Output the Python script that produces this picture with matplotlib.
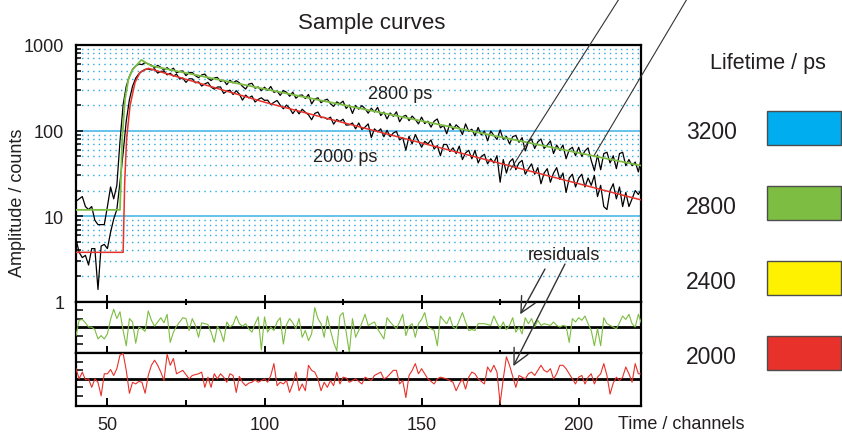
import numpy as np
import matplotlib.pyplot as plt
from matplotlib.patches import Rectangle, ConnectionPatch
from matplotlib.ticker import MultipleLocator, LogLocator, NullFormatter, FuncFormatter

plt.rcParams['font.family'] = ['Liberation Sans', 'DejaVu Sans']

# time axis: one point per channel
channels = np.arange(40, 221)

# measured decay, 2800 ps sample
counts_2800 = [
    15, 16, 17, 13, 12, 13, 9, 8, 8, 8, 13, 22, 16, 23,
    75, 200, 330, 430, 520, 570, 600, 590, 625, 600,
    582, 541, 579, 548, 509, 544,
    507, 536, 473, 492, 498, 439, 477, 478, 439, 415,
    447, 458, 408, 385, 412, 419, 375, 388, 344, 389,
    361, 383, 362, 329, 306, 350, 357, 313, 324, 293,
    322, 295, 328, 280, 290, 258, 294, 281, 252, 282,
    239, 258, 261, 237, 265, 205, 234, 242, 212, 226,
    233, 206, 192, 217, 206, 221, 182, 199, 159, 197,
    178, 196, 181, 160, 183, 165, 187, 150, 165, 137,
    161, 147, 166, 127, 146, 151, 131, 148, 135, 120,
    144, 121, 129, 110, 129, 137, 108, 115, 92, 121,
    103, 117, 108, 90, 120, 98, 104, 87, 109, 89,
    99, 76, 99, 88, 79, 102, 79, 86, 70, 85,
    88, 73, 83, 58, 74, 80, 62, 74, 80, 62,
    68, 76, 54, 68, 59, 68, 47, 60, 64, 51,
    64, 50, 58, 63, 45, 34, 52, 35, 54, 56,
    42, 51, 36, 54, 56, 39, 46, 39, 43, 33, 49]

# measured decay, 2000 ps sample
counts_2000 = [
    5.4, 3.8, 3.3, 3.5, 2.7, 4.2, 4.2, 1.4, 4.5, 4.7, 4.2, 6.5, 9.3,
    12, 25, 55, 130, 230, 330, 410, 460, 495, 520, 525,
    511, 527, 470, 492, 495, 448,
    468, 433, 457, 400, 412, 366, 403, 403, 362, 371,
    332, 351, 366, 323, 305, 323, 324, 272, 289, 297,
    264, 293, 267, 227, 260, 241, 254, 216, 232, 242,
    226, 227, 202, 214, 225, 199, 180, 199, 183, 158,
    178, 157, 178, 164, 153, 134, 159, 165, 142, 143,
    136, 144, 119, 135, 128, 136, 116, 117, 123, 105,
    123, 103, 110, 120, 83, 105, 97, 105, 85, 101,
    85, 94, 98, 78, 83, 59, 86, 70, 90, 76,
    64, 75, 70, 78, 61, 67, 51, 69, 69, 57,
    63, 54, 66, 46, 55, 59, 47, 59, 42, 50,
    53, 41, 47, 42, 51, 25, 46, 32, 43, 47,
    35, 42, 45, 31, 36, 41, 31, 37, 24, 32,
    36, 25, 32, 37, 27, 32, 19, 28, 31, 22,
    28, 31, 22, 28, 23, 30, 17, 23, 13, 12,
    20, 24, 16, 22, 13, 19, 13, 16, 20, 18, 21]

# fitted model curves (straight segments on the log axis)
fit_2800_ch = [40, 54, 54.7, 55.6, 56.7, 58.0, 60.8, 64, 220]
fit_2800 = [11.9, 11.9, 80, 234, 400, 515, 670, 570, 39]
fit_2000_ch = [40, 55, 55.1, 55.5, 56.1, 57.2, 58.8, 60.4, 63, 100, 220]
fit_2000 = [3.8, 3.8, 5.4, 25, 80, 196, 367, 480, 535, 215, 15.5]

# weighted residuals of the two fits
resid_2800 = [
    -1.0, 0.8, 0.9, 0.5, 0.0, 0.0, -0.3, -1.4, -1.0, -1.4,
    -0.8, 0.9, 2.1, 1.0, 1.8, -0.4, -2.2, 1.0, 0.6, -1.9,
    0.0, -0.2, -0.5, 1.9, 0.8, 0.1, 0.6, 1.1, 0.5, 1.5,
    -1.8, -0.6, 0.1, 0.6, 1.1, 1.0, -0.4, 1.0, 0.2, -1.2,
    0.5, 0.4, 0.3, -0.6, -1.8, 0.1, -0.5, -1.7, 0.6, 0.0,
    0.3, 1.3, 0.4, 0.1, 0.4, -0.2, -0.6, 0.4, 1.2, -2.7,
    1.2, -0.6, 0.0, -0.4, 0.6, 1.1, -2.0, 0.3, 1.0, 0.5,
    -0.2, 1.0, -1.2, -0.4, -1.6, -0.8, 2.3, 1.0, 0.4, -1.2,
    1.3, -0.4, -1.8, -2.8, 1.3, 1.7, -0.6, -3.0, 1.0, -1.2,
    -0.4, 0.5, 1.5, 0.2, 0.4, 0.6, -0.2, -0.8, -1.4, 1.1,
    0.6, 0.2, -0.2, 0.6, 1.5, -1.0, 0.1, 0.4, -1.2, 0.4,
    0.9, 1.7, 0.0, -0.2, -0.4, -2.2, 1.3, 0.8, 0.4, 1.2,
    0.0, -0.2, 0.8, 1.7, 0.6, -0.4, -0.3, -0.4, 0.4, 0.4,
    0.4, 0.3, 0.2, 1.3, 0.5, -0.2, 0.6, -0.3, 0.2, 1.1,
    -0.6, 0.0, -0.8, 1.1, 0.4, 1.0, 0.0, 0.8, 0.2, 0.4,
    0.3, 0.2, 0.6, 0.2, 0.0, 0.2, 0.1, -1.8, 1.0, 0.6,
    1.1, 0.8, 1.3, 0.4, -0.4, -2.2, -0.2, -2.2, 1.1, 0.4,
    0.2, 0.0, -0.2, 0.5, 1.3, 0.9, 1.5, 0.4, 0.0, 1.5, 0.4]

resid_2000 = [
    1.2, 0.0, 0.8, -0.1, 0.0, -1.0, 0.0, -0.4, -2.0, 0.6,
    0.6, 1.1, 0.4, 1.2, 2.8, 3.0, 1.0, -1.7, -0.4, -0.6,
    -0.3, -0.4, -1.7, 0.4, 1.6, 2.2, 1.6, 0.8, -0.2, 2.9,
    1.6, 2.4, 0.6, 0.8, 1.0, 0.5, 0.0, 0.4, 0.5, 0.6,
    0.8, -1.0, 0.2, -1.0, 0.6, 0.0, 0.6, 0.2, -0.4, 0.6,
    0.4, -1.6, 0.3, -0.4, -0.8, -0.5, -0.4, -0.1, -0.4, -0.2,
    0.0, -0.4, 0.4, 1.8, -0.8, -0.4, -0.6, -0.2, -1.6, -0.6,
    0.8, -1.4, -0.6, -1.4, 1.6, 1.0, 0.8, 0.0, -1.4, -0.4,
    -1.0, -0.2, -0.8, 0.8, -0.6, 0.2, 0.1, -0.4, -0.2, 0.0,
    -0.3, -0.6, 0.2, 0.0, -0.2, 0.4, 0.6, 0.8, 0.0, 0.2,
    0.6, 1.0, 1.0, -0.6, -0.2, -2.2, 0.4, 1.0, 1.8, 0.6,
    1.2, 0.6, 0.0, -0.3, -0.6, 0.0, 0.2, 0.1, 0.0, -0.2,
    -0.4, -1.4, -0.6, 0.0, -1.2, 0.2, 0.8, 0.6, 0.0, -0.3,
    -0.6, 1.4, 0.8, 1.6, 0.8, -2.9, 0.0, 2.6, 1.6, 0.3,
    -1.0, 0.4, 0.2, 0.0, 0.6, 0.8, 0.4, 1.0, 1.6, 1.0,
    0.8, 1.2, 0.0, 0.6, 1.6, 1.6, 1.2, 0.6, 0.0, -0.6,
    0.2, 0.4, -0.6, 0.2, 0.6, -0.6, 0.2, 0.6, 1.8, 0.4,
    -1.8, -0.5, 0.2, -0.2, 0.2, 1.4, 0.6, -0.4, 1.8, 0.6, 0.6]

# colour key on the right
lifetimes = ['3200', '2800', '2400', '2000']
key_colors = ['#00aeef', '#7cbd42', '#fff200', '#e8312a']

GREEN = '#7cbd42'
RED = '#e8312a'
TXT = '#231f20'
GRID_MAJOR = '#5bbde8'
GRID_MINOR = '#29abe2'

W, H = 842, 435
fig = plt.figure(figsize=(W / 100, H / 100), dpi=100)


def px_box(x0, y0, x1, y1):
    # pixel box measured from the top-left corner -> figure fraction rect
    return [x0 / W, 1 - y1 / H, (x1 - x0) / W, (y1 - y0) / H]


ax = fig.add_axes(px_box(76, 46, 641.5, 303))
r1 = fig.add_axes(px_box(76, 303, 641.5, 354))
r2 = fig.add_axes(px_box(76, 354, 641.5, 407))

# ---- main decay panel ----
ax.set_yscale('log')
ax.set_xlim(40, 220)
ax.set_ylim(1, 1000)
ax.yaxis.set_major_locator(LogLocator(base=10))
ax.yaxis.set_minor_locator(LogLocator(base=10, subs=range(2, 10)))
ax.yaxis.set_major_formatter(FuncFormatter(lambda v, p: f'{v:g}'))
ax.yaxis.set_minor_formatter(NullFormatter())
ax.grid(True, which='major', axis='y', color=GRID_MAJOR, lw=1.3, zorder=0)
ax.grid(True, which='minor', axis='y', color=GRID_MINOR, lw=1.0, ls=(0, (1, 3)), zorder=0)
ax.set_axisbelow(True)

ax.plot(channels, counts_2800, color='black', lw=0.9, zorder=3)
ax.plot(channels, counts_2000, color='black', lw=0.9, zorder=3)
ax.plot(fit_2800_ch, fit_2800, color=GREEN, lw=1.3, zorder=4)
ax.plot(fit_2000_ch, fit_2000, color=RED, lw=1.1, zorder=4)

ax.text(143.2, 239, '2800 ps', ha='center', va='baseline', fontsize=13, color=TXT)
ax.text(125.7, 44.6, '2000 ps', ha='center', va='baseline', fontsize=13, color=TXT)

ax.tick_params(axis='x', which='both', bottom=False, top=False, labelbottom=False)
ax.tick_params(axis='y', which='both', direction='in', left=True, right=False,
               labelsize=13, labelcolor=TXT, pad=8.5, width=1.1)
ax.tick_params(axis='y', which='major', length=5)
ax.tick_params(axis='y', which='minor', length=3.5)

# ---- residual panels ----
for rax, res, col, lim in [(r1, resid_2800, GREEN, (-3.05, 2.95)),
                           (r2, resid_2000, RED, (-3.2, 3.05))]:
    rax.set_xlim(40, 220)
    rax.set_ylim(*lim)
    rax.axhline(0, color='black', lw=2.0, zorder=2)
    rax.plot(channels, res, color=col, lw=0.8, zorder=3)
    rax.set_yticks([-2, -1, 1, 2])
    rax.xaxis.set_major_locator(MultipleLocator(50))
    rax.xaxis.set_minor_locator(MultipleLocator(25))
    rax.tick_params(axis='y', which='both', direction='in', length=5, width=1.1,
                    labelleft=False)

r1.tick_params(axis='x', which='both', direction='inout', top=True, bottom=True,
               labelbottom=False, width=1.4)
r1.tick_params(axis='x', which='major', length=10)
r1.tick_params(axis='x', which='minor', length=5)

r2.tick_params(axis='x', which='both', direction='in', top=False, bottom=True,
               labelsize=13, labelcolor=TXT, pad=7, width=1.4)
r2.tick_params(axis='x', which='major', length=6)
r2.tick_params(axis='x', which='minor', length=4)

for a in (ax, r1, r2):
    for s in a.spines.values():
        s.set_linewidth(1.6)
        s.set_color('black')

# ---- text around the axes ----
fig.text(371.5 / W, 1 - 29.5 / H, 'Sample curves', ha='center', va='baseline',
         fontsize=16, color=TXT)
fig.text(18 / W, 1 - 202.5 / H, 'Amplitude / counts', rotation=90, ha='center',
         va='center', fontsize=13, color=TXT)
fig.text(618 / W, 1 - 429 / H, 'Time / channels', ha='left', va='baseline',
         fontsize=13, color=TXT)
fig.text(564 / W, 1 - 260 / H, 'residuals', ha='center', va='baseline',
         fontsize=13, color=TXT)

# pointer lines coming in from above
for top_x, xy in [(619, (178.2, 34.7)), (687, (205.0, 52.0))]:
    fig.add_artist(ConnectionPatch(xyA=(top_x, H), coordsA='figure pixels',
                                   xyB=xy, coordsB=ax.transData,
                                   color='#333333', lw=0.8, zorder=5))

# arrows from the 'residuals' label
for tail, rax, xy in [((545, H - 270), r1, (181.4, 1.5)),
                      ((565, H - 265), r2, (179.2, 1.5))]:
    fig.add_artist(ConnectionPatch(xyA=tail, coordsA='figure pixels',
                                   xyB=xy, coordsB=rax.transData,
                                   arrowstyle='->,head_length=0.8,head_width=0.4',
                                   mutation_scale=14, color='#333333', lw=1.0,
                                   zorder=5))

# lifetime colour key
fig.text(768 / W, 1 - 69 / H, 'Lifetime / ps', ha='center', va='baseline',
         fontsize=15.5, color=TXT)
for i, (lab, col) in enumerate(zip(lifetimes, key_colors)):
    top = 112 + 75 * i
    fig.add_artist(Rectangle((767 / W, 1 - (top + 34) / H), 74 / W, 34 / H,
                             transform=fig.transFigure, facecolor=col,
                             edgecolor='#4d4d4d', lw=1.0))
    fig.text(711.5 / W, 1 - (top + 27.3) / H, lab, ha='center', va='baseline',
             fontsize=16.5, color=TXT)

fig.savefig('out.png', dpi=100)
